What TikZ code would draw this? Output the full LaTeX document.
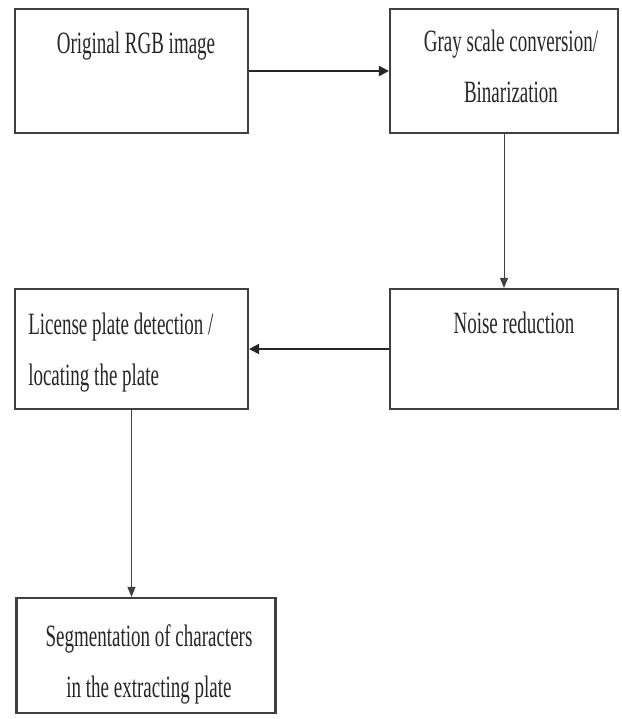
\documentclass[tikz,border=0pt]{standalone}
\usepackage{fontspec}
\setmainfont[FakeStretch=0.613]{Liberation Serif}
\usetikzlibrary{arrows.meta}
\begin{document}
\begin{tikzpicture}[x=0.75pt, y=-0.75pt,
   box/.style={draw=black!75, line width=1.6pt},
   txt/.style={font=\fontsize{23.25pt}{38pt}\selectfont, text=black!85, inner sep=0pt, anchor=base},
   main link/.style={draw=black!85, line width=1.5pt, -{Triangle[length=7.5pt,width=7.5pt]}},
   side link/.style={draw=black!75, line width=0.75pt, -{Triangle[length=7.5pt,width=6pt]}}]

\useasboundingbox (0,0) rectangle (622,719);

% boxes
\node[box, minimum width=174.75pt, minimum height=93pt] (rgb) at (131.5,71) {};
\node[box, minimum width=171pt, minimum height=93pt] (gray) at (504,71) {};
\node[box, minimum width=171pt, minimum height=90pt] (noise) at (504,349) {};
\node[box, minimum width=174.75pt, minimum height=90pt] (plate) at (131.5,349) {};
\node[box, minimum width=194.25pt, minimum height=86.25pt] (segm) at (146,655.5) {};

% texts (multi-line ones sit on their last baseline)
\node[txt] (rgbtxt) at (136,53) {Original RGB image};
\node[txt, align=center] (graytxt) at (511,102) {Gray scale conversion/\\Binarization};
\node[txt] (noisetxt) at (514,333) {Noise reduction};
\node[txt, align=left, anchor=base west] (platetxt) at (28,385) {License plate detection /\\locating the plate};
\node[txt, align=center] (segmtxt) at (149,697) {Segmentation of characters\\in the extracting plate};

% links
\draw[main link] (rgb) -- (gray);
\draw[side link] (gray) -- (noise);
\draw[main link] (noise) -- (plate);
\draw[side link] (plate.south) -- (plate.south |- segm.north);

\end{tikzpicture}
\end{document}
